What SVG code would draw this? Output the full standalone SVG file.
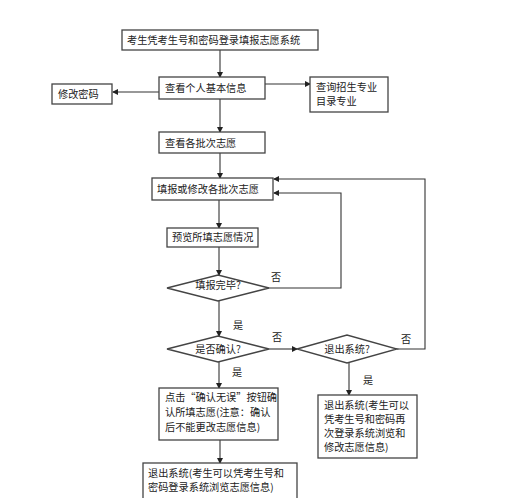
<svg xmlns="http://www.w3.org/2000/svg" width="509" height="498" viewBox="0 0 509 498">
<defs>
<marker id="ah" markerWidth="6" markerHeight="6" refX="5" refY="3" orient="auto" markerUnits="userSpaceOnUse">
<path d="M0,0 L6,3 L0,6 Z" fill="#222"/>
</marker>
<style>
.box{fill:#fff;stroke:#444;stroke-width:1.3}
.t{font-family:"Noto Sans CJK SC","Noto Sans",sans-serif;font-size:10.2px;fill:#222}
.c{text-anchor:middle}
.e{fill:none;stroke:#333;stroke-width:1.1}
.a{marker-end:url(#ah)}
</style>
</defs>
<rect width="509" height="498" fill="#fff"/>
<g id="connectors">
<path class="e a" d="M220,50 V77"/>
<path class="e a" d="M159,92 H113"/>
<path class="e a" d="M265,84 H310"/>
<path class="e a" d="M220,99 V132"/>
<path class="e a" d="M220,153 V178"/>
<path class="e a" d="M219,200 V228"/>
<path class="e a" d="M219,247 V275"/>
<path class="e a" d="M268,288 H341 V193 H274"/>
<path class="e a" d="M219,301 V336"/>
<path class="e a" d="M269,349 H297"/>
<path class="e a" d="M397,349 H425 V179 H274"/>
<path class="e a" d="M219,362 V388"/>
<path class="e a" d="M349,363 V395"/>
<path class="e a" d="M220,440 V463"/>
<text class="t" x="271" y="281">否</text>
<text class="t" x="233" y="329">是</text>
<text class="t" x="272" y="341">否</text>
<text class="t" x="401" y="343">否</text>
<text class="t" x="232" y="376">是</text>
<text class="t" x="363" y="384">是</text>
</g>
<g id="n1"><rect class="box" x="122" y="30" width="196" height="20"/><text class="t" x="127" y="44">考生凭考生号和密码登录填报志愿系统</text></g>
<g id="n2"><rect class="box" x="159" y="77" width="106" height="22"/><text class="t" x="165" y="92">查看个人基本信息</text></g>
<g id="n_pw"><rect class="box" x="52" y="84" width="60" height="20"/><text class="t" x="58" y="98">修改密码</text></g>
<g id="n_query"><rect class="box" x="310" y="77" width="78" height="35"/><text class="t" x="316" y="91">查询招生专业</text><text class="t" x="316" y="105">目录专业</text></g>
<g id="n3"><rect class="box" x="159" y="132" width="106" height="21"/><text class="t" x="165" y="147">查看各批次志愿</text></g>
<g id="n4"><rect class="box" x="152" y="178" width="121" height="22"/><text class="t" x="157" y="193">填报或修改各批次志愿</text></g>
<g id="n5"><rect class="box" x="167" y="228" width="91" height="19"/><text class="t" x="172" y="241">预览所填志愿情况</text></g>
<g id="d1"><path class="box" d="M167,288 L218,275 L269,288 L218,301 Z"/><text class="t c" x="218" y="289">填报完毕?</text></g>
<g id="d2"><path class="box" d="M167,349 L218,336 L269,349 L218,362 Z"/><text class="t c" x="218" y="353">是否确认?</text></g>
<g id="d3"><path class="box" d="M297,349 L347,335 L397,349 L347,363 Z"/><text class="t c" x="347" y="353">退出系统?</text></g>
<g id="n6"><rect class="box" x="159" y="388" width="119" height="52"/><text class="t" x="165" y="401">点击“确认无误”按钮确</text><text class="t" x="165" y="416">认所填志愿(注意：确认</text><text class="t" x="165" y="431">后不能更改志愿信息)</text></g>
<g id="n7"><rect class="box" x="318" y="395" width="99" height="63"/><text class="t" x="324" y="409">退出系统(考生可以</text><text class="t" x="324" y="423">凭考生号和密码再</text><text class="t" x="324" y="437">次登录系统浏览和</text><text class="t" x="324" y="451">修改志愿信息)</text></g>
<g id="n8"><rect class="box" x="143" y="463" width="154" height="40"/><text class="t" x="148" y="477">退出系统(考生可以凭考生号和</text><text class="t" x="148" y="491">密码登录系统浏览志愿信息)</text></g>
</svg>
